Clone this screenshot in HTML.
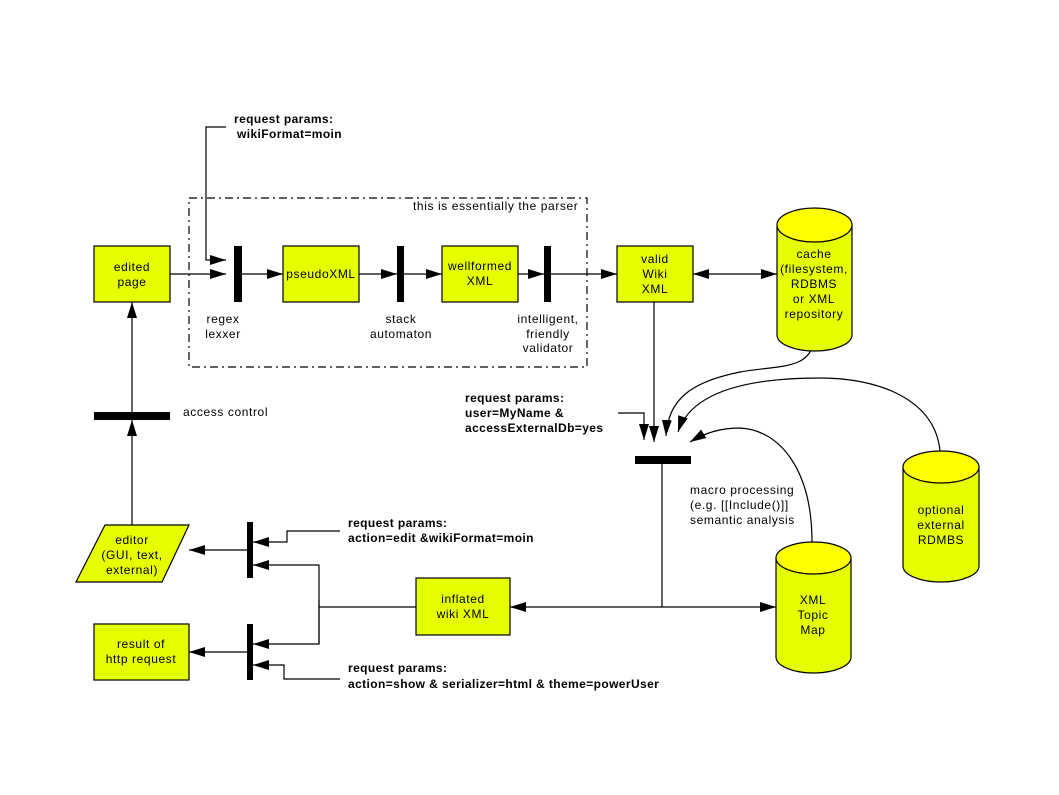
<!DOCTYPE html>
<html><head><meta charset="utf-8"><style>
html,body{margin:0;padding:0;background:#fff;}
svg{display:block;}
text{font-family:"Liberation Sans",sans-serif;font-size:12px;letter-spacing:0.6px;fill:#000;}
.b{font-weight:bold;font-size:12px;letter-spacing:0.4px;}
</style></head><body>
<svg width="1059" height="795" viewBox="0 0 1059 795" xmlns="http://www.w3.org/2000/svg">
<defs>
<marker id="a" markerWidth="16" markerHeight="10" refX="16" refY="5" orient="auto" markerUnits="userSpaceOnUse">
<path d="M0,0 L16,5 L0,10 z" fill="#000"/></marker>
</defs>
<g stroke="#000" stroke-width="1.2" fill="none">
<rect x="189" y="198" width="398" height="169" stroke-dasharray="8,4,2,4"/>
<path d="M226,127 H206 V260 H226" marker-end="url(#a)"/>
<line x1="170" y1="274" x2="226" y2="274" marker-end="url(#a)"/>
<line x1="242" y1="274" x2="283" y2="274" marker-end="url(#a)"/>
<line x1="359" y1="274" x2="397" y2="274" marker-end="url(#a)"/>
<line x1="404" y1="274" x2="442" y2="274" marker-end="url(#a)"/>
<line x1="518" y1="274" x2="544" y2="274" marker-end="url(#a)"/>
<line x1="551" y1="274" x2="617" y2="274" marker-end="url(#a)"/>
<line x1="735" y1="274" x2="693" y2="274" marker-end="url(#a)"/>
<line x1="735" y1="274" x2="777" y2="274" marker-end="url(#a)"/>
<line x1="654" y1="302" x2="654" y2="442" marker-end="url(#a)"/>
<path d="M618,413 H644 V440" marker-end="url(#a)"/>
<path d="M814,340 C810,370 780,365 740,372 C690,382 668,400 666,436" marker-end="url(#a)"/>
<path d="M940,451 C935,400 880,378 820,378 C740,378 690,395 678,432" marker-end="url(#a)"/>
<path d="M812,542 C812,470 780,430 740,428 C720,428 705,433 690,442" marker-end="url(#a)"/>
<line x1="662" y1="464" x2="662" y2="607"/>
<line x1="662" y1="607" x2="510" y2="607" marker-end="url(#a)"/>
<line x1="662" y1="607" x2="776" y2="607" marker-end="url(#a)"/>
<line x1="132" y1="525" x2="132" y2="420" marker-end="url(#a)"/>
<line x1="132" y1="412" x2="132" y2="302" marker-end="url(#a)"/>
<line x1="416" y1="607" x2="319" y2="607"/>
<path d="M319,644 V565 H253" marker-end="url(#a)"/>
<path d="M319,600 V644 H253" marker-end="url(#a)"/>
<path d="M340,531 H287 V542 H253" marker-end="url(#a)"/>
<path d="M340,679 H284 V665 H253" marker-end="url(#a)"/>
<line x1="247" y1="550" x2="189" y2="550" marker-end="url(#a)"/>
<line x1="247" y1="652" x2="189" y2="652" marker-end="url(#a)"/>
</g>
<g fill="#000">
<rect x="234" y="246" width="8" height="56"/>
<rect x="397" y="246" width="7" height="56"/>
<rect x="544" y="246" width="7" height="56"/>
<rect x="94" y="412" width="76" height="8"/>
<rect x="635" y="456" width="56" height="8"/>
<rect x="247" y="522" width="6" height="56"/>
<rect x="247" y="624" width="6" height="56"/>
</g>
<g fill="#e6ff00" stroke="#000" stroke-width="1.2">
<rect x="94" y="246" width="76" height="56"/>
<rect x="283" y="246" width="76" height="56"/>
<rect x="442" y="246" width="76" height="56"/>
<rect x="617" y="246" width="76" height="56"/>
<rect x="416" y="578" width="94" height="57"/>
<rect x="94" y="624" width="95" height="56"/>
<polygon points="105,525 189,525 162,582 76,582"/>
<path d="M777,225 V335 A37.5,16 0 0 0 852,335 V225"/>
<ellipse cx="814.5" cy="225" rx="37.5" ry="17" fill="#ffff00"/>
<path d="M776,558 V657 A37.5,16 0 0 0 851,657 V558"/>
<ellipse cx="813.5" cy="558" rx="37.5" ry="16" fill="#ffff00"/>
<path d="M903,467 V566 A38,16 0 0 0 979,566 V467"/>
<ellipse cx="941" cy="467" rx="38" ry="16" fill="#ffff00"/>
</g>
<g text-anchor="middle">
<text x="132" y="271">edited</text><text x="132" y="286">page</text>
<text x="321" y="278">pseudoXML</text>
<text x="480" y="270">wellformed</text><text x="480" y="285">XML</text>
<text x="655" y="263">valid</text><text x="655" y="278">Wiki</text><text x="655" y="293">XML</text>
<text x="814" y="258">cache</text><text x="814" y="273">(filesystem,</text><text x="814" y="288">RDBMS</text><text x="814" y="303">or XML</text><text x="814" y="318">repository</text>
<text x="223" y="323">regex</text><text x="223" y="338">lexxer</text>
<text x="401" y="323">stack</text><text x="401" y="338">automaton</text>
<text x="548" y="323">intelligent,</text><text x="548" y="338">friendly</text><text x="548" y="352">validator</text>
<text x="132" y="544">editor</text><text x="132" y="559">(GUI, text,</text><text x="132" y="574">external)</text>
<text x="463" y="603">inflated</text><text x="463" y="618">wiki XML</text>
<text x="141" y="648">result of</text><text x="141" y="663">http request</text>
<text x="813" y="604">XML</text><text x="813" y="619">Topic</text><text x="813" y="634">Map</text>
<text x="941" y="514">optional</text><text x="941" y="529">external</text><text x="941" y="544">RDMBS</text>
</g>
<text x="413" y="210">this is essentially the parser</text>
<text x="183" y="416">access control</text>
<text x="690" y="494">macro processing</text><text x="690" y="509">(e.g. [[Include()]]</text><text x="690" y="524">semantic analysis</text>
<text class="b" x="234" y="123">request params:</text><text class="b" x="237" y="138">wikiFormat=moin</text>
<text class="b" x="465" y="402">request params:</text><text class="b" x="465" y="417">user=MyName &amp;</text><text class="b" x="465" y="432">accessExternalDb=yes</text>
<text class="b" x="348" y="527">request params:</text><text class="b" x="348" y="542">action=edit &amp;wikiFormat=moin</text>
<text class="b" x="348" y="672">request params:</text><text class="b" x="348" y="688">action=show &amp; serializer=html &amp; theme=powerUser</text>
</svg>
</body></html>
